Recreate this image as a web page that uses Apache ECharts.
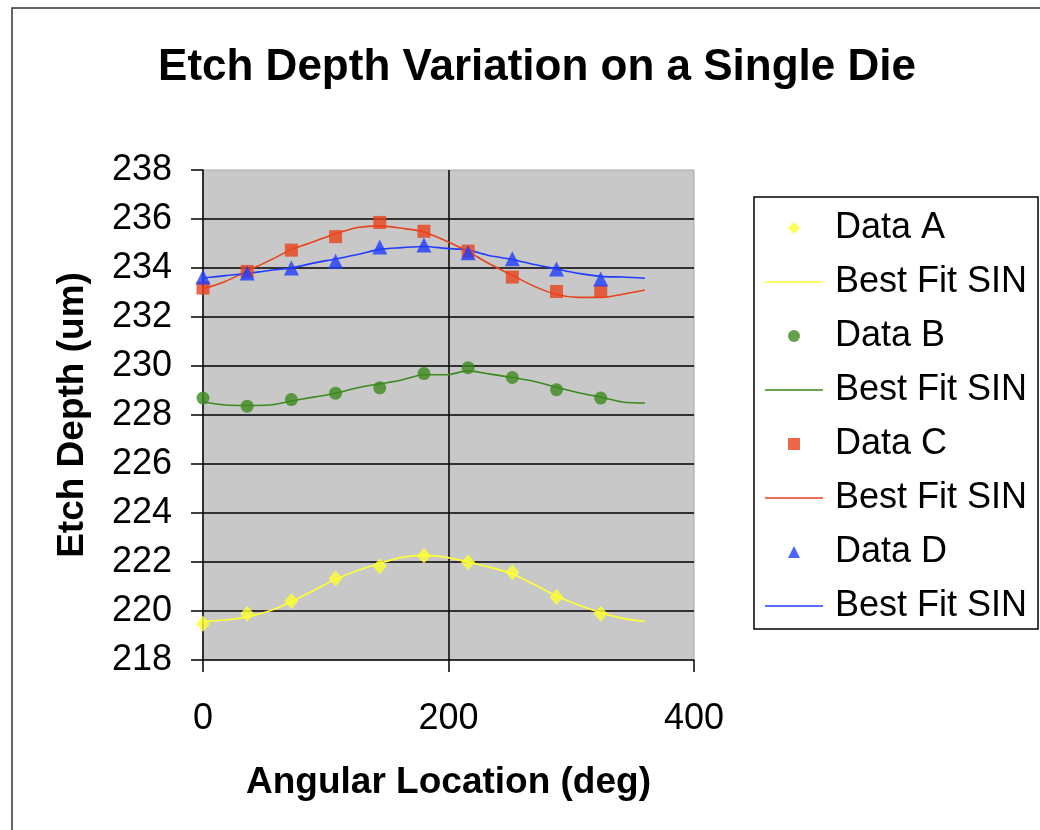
<!DOCTYPE html>
<html>
<head>
<meta charset="utf-8">
<script src="https://cdn.jsdelivr.net/npm/echarts@6/dist/echarts.min.js"></script>
<style>
  html, body { margin: 0; padding: 0; background: #fff; }
  #chart { width: 1040px; height: 830px; }
</style>
</head>
<body>
<div id="chart"></div>
<script>
// measured points (deg)
const angles = [0, 36, 72, 108, 144, 180, 216, 252, 288, 324]
const dataA = [219.48, 219.89, 220.41, 221.33, 221.83, 222.26, 221.99, 221.58, 220.57, 219.89]
const dataB = [228.69, 228.36, 228.63, 228.89, 229.11, 229.69, 229.93, 229.53, 229.03, 228.69]
const dataC = [233.18, 233.86, 234.73, 235.28, 235.86, 235.50, 234.69, 233.63, 233.04, 233.04]
const dataD = [233.63, 233.80, 234.00, 234.28, 234.86, 234.94, 234.62, 234.38, 233.96, 233.55]

// best fit curves, every 18 deg
const fitAngles = [0, 18, 36, 54, 72, 90, 108, 126, 144, 162, 180, 198, 216, 234, 252, 270, 288, 306, 324, 342, 360]
const fitA = [219.57, 219.63, 219.76, 220.00, 220.38, 220.84, 221.29, 221.65, 221.95, 222.19, 222.27, 222.19, 222.00, 221.78, 221.51, 221.08, 220.61, 220.24, 219.93, 219.70, 219.57]
const fitB = [228.53, 228.41, 228.39, 228.41, 228.57, 228.73, 228.89, 229.11, 229.27, 229.43, 229.64, 229.64, 229.80, 229.67, 229.53, 229.37, 229.13, 228.91, 228.73, 228.53, 228.49]
const fitC = [233.15, 233.45, 233.88, 234.30, 234.75, 235.07, 235.40, 235.65, 235.72, 235.62, 235.47, 235.10, 234.67, 234.15, 233.70, 233.25, 232.92, 232.80, 232.80, 232.93, 233.10]
const fitD = [233.59, 233.69, 233.77, 233.90, 234.00, 234.20, 234.37, 234.55, 234.76, 234.83, 234.88, 234.80, 234.73, 234.50, 234.35, 234.14, 233.96, 233.78, 233.66, 233.63, 233.58]

const xTicks = [0, 200, 400]
const yTicks = [218, 220, 222, 224, 226, 228, 230, 232, 234, 236, 238]

const FONT = 'Liberation Sans, Arial, sans-serif'
const colors = { A: '#FFFF33', B: '#3C8A1E', C: '#E8421C', D: '#1F3CFF' }

// legend icons as paths so they keep their aspect inside the wide legend box
const icons = {
  diamond: 'path://M0,-1L1,0L0,1L-1,0Z',
  circle: 'path://M0,-1A1,1 0 1,1 0,1A1,1 0 1,1 0,-1Z',
  rect: 'path://M-1,-1L1,-1L1,1L-1,1Z',
  triangle: 'path://M0,-1L1,1L-1,1Z',
  line: 'path://M0,0L58,0L58,1.6L0,1.6Z',
}

const pair = (xs, ys) => xs.map((x, i) => [x, ys[i]])

const dataSeries = (name, ys, symbol, size, color) => ({
  name: name,
  type: 'scatter',
  data: pair(angles, ys),
  symbol: symbol,
  symbolSize: size,
  itemStyle: { color: color },
  z: 4,
})

const fitSeries = (name, ys, color) => ({
  name: name,
  type: 'line',
  data: pair(fitAngles, ys),
  symbol: 'none',
  showSymbol: false,
  smooth: 0.3,
  lineStyle: { color: color, width: 1.6 },
  itemStyle: { color: color },
  z: 3,
})

const chart = echarts.init(document.getElementById('chart'))

chart.setOption({
  animation: false,
  backgroundColor: '#fff',
  textStyle: { fontFamily: FONT },
  title: {
    text: 'Etch Depth Variation on a Single Die',
    left: 532,
    top: 41,
    textAlign: 'center',
    textStyle: { fontFamily: FONT, fontSize: 44, fontWeight: 'bold', color: '#000' },
  },
  graphic: [
    {
      type: 'rect',
      shape: { x: 12, y: 8, width: 1200, height: 1000 },
      style: { fill: 'none', stroke: '#333', lineWidth: 1.5 },
      z: 0,
    },
    {
      type: 'rect',
      shape: { x: 754, y: 197, width: 284, height: 432 },
      style: { fill: '#fff', stroke: '#000', lineWidth: 1.5 },
      z: 0,
    },
  ],
  legend: {
    orient: 'vertical',
    left: 765,
    top: 208,
    padding: 0,
    itemGap: 14,
    itemWidth: 58,
    itemHeight: 12,
    symbolKeepAspect: true,
    data: [
      { name: 'Data A', icon: icons.diamond },
      { name: 'Best Fit SIN A', icon: icons.line },
      { name: 'Data B', icon: icons.circle },
      { name: 'Best Fit SIN B', icon: icons.line },
      { name: 'Data C', icon: icons.rect },
      { name: 'Best Fit SIN C', icon: icons.line },
      { name: 'Data D', icon: icons.triangle },
      { name: 'Best Fit SIN D', icon: icons.line },
    ],
    formatter: name => name.indexOf('Best Fit SIN') === 0 ? 'Best Fit SIN' : name,
    textStyle: { fontFamily: FONT, fontSize: 36, color: '#000', lineHeight: 40, padding: [0, 0, 0, 7] },
  },
  grid: {
    left: 203,
    right: 346,
    top: 170,
    bottom: 170,
    show: true,
    backgroundColor: '#C8C8C8',
    borderColor: '#A8A8A8',
    borderWidth: 1,
  },
  xAxis: {
    type: 'value',
    min: xTicks[0],
    max: xTicks[xTicks.length - 1],
    interval: 200,
    name: 'Angular Location (deg)',
    nameLocation: 'middle',
    nameGap: 104,
    nameTextStyle: { fontFamily: FONT, fontSize: 37, fontWeight: 'bold', color: '#000' },
    axisLine: { onZero: false, lineStyle: { color: '#000', width: 1.5 } },
    axisTick: { inside: false, length: 12, lineStyle: { color: '#000', width: 1.5 } },
    axisLabel: { fontFamily: FONT, fontSize: 36, color: '#000', margin: 41 },
    splitLine: { show: true, showMinLine: false, showMaxLine: false, lineStyle: { color: '#000', width: 1.5 } },
  },
  yAxis: {
    type: 'value',
    min: yTicks[0],
    max: yTicks[yTicks.length - 1],
    interval: 2,
    name: 'Etch Depth (um)',
    nameLocation: 'middle',
    nameGap: 112,
    nameRotate: 90,
    nameTextStyle: { fontFamily: FONT, fontSize: 37, fontWeight: 'bold', color: '#000' },
    axisLine: { show: true, lineStyle: { color: '#000', width: 1.5 } },
    axisTick: { show: true, inside: false, length: 12, lineStyle: { color: '#000', width: 1.5 } },
    axisLabel: { fontFamily: FONT, fontSize: 36, color: '#000', margin: 31 },
    splitLine: { show: true, showMinLine: false, showMaxLine: false, lineStyle: { color: '#000', width: 1.5 } },
  },
  series: [
    dataSeries('Data A', dataA, 'diamond', [14, 16], colors.A),
    fitSeries('Best Fit SIN A', fitA, colors.A),
    dataSeries('Data B', dataB, 'circle', 13, colors.B),
    fitSeries('Best Fit SIN B', fitB, colors.B),
    dataSeries('Data C', dataC, 'rect', 13, colors.C),
    fitSeries('Best Fit SIN C', fitC, colors.C),
    dataSeries('Data D', dataD, 'triangle', 15, colors.D),
    fitSeries('Best Fit SIN D', fitD, colors.D),
  ],
})
</script>
</body>
</html>
